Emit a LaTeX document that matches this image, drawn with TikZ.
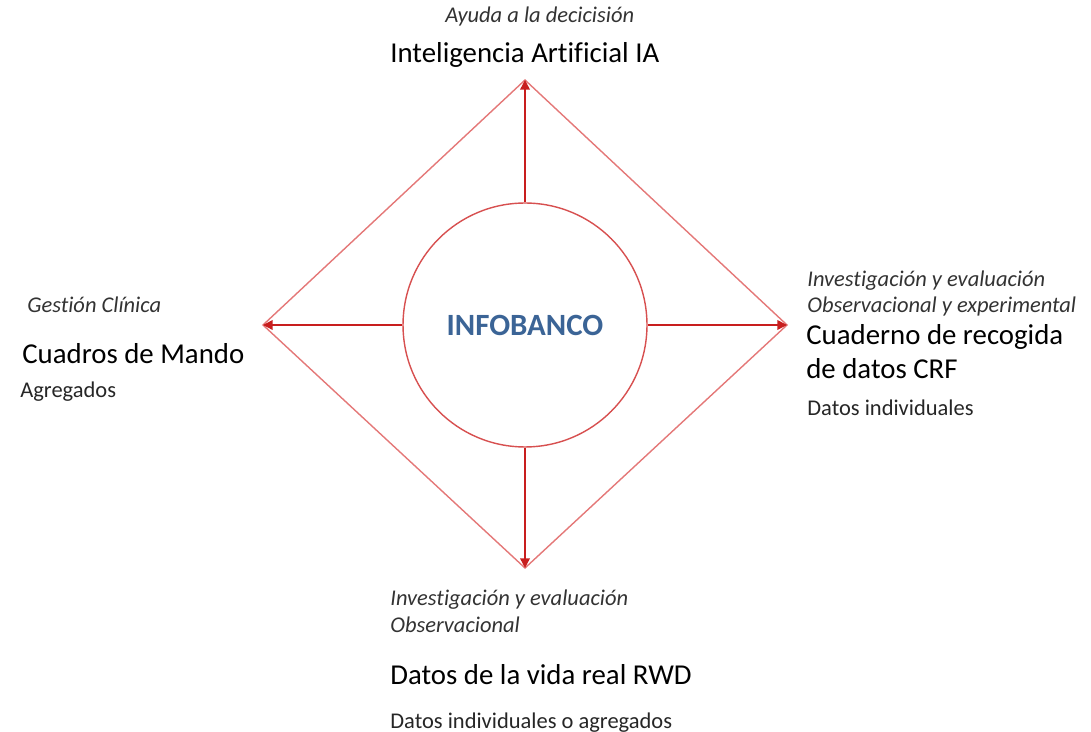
\documentclass[tikz,border=0pt]{standalone}
\usepackage{fontspec}
\setmainfont[Ligatures=CommonOff]{Carlito}
\usepackage{xcolor}
\usepackage{tikz}
\usetikzlibrary{arrows.meta}
\definecolor{rombo}{RGB}{228,120,120}
\definecolor{flecha}{RGB}{200,30,30}
\definecolor{circulo}{RGB}{215,80,80}
\definecolor{azul}{RGB}{59,100,150}
\tikzset{
  titulo/.style={anchor=base west, inner sep=0pt, font=\fontsize{16.4pt}{19pt}\selectfont},
  ambito/.style={anchor=base west, inner sep=0pt, text=black!80, font=\fontsize{12.8pt}{15pt}\selectfont\itshape},
  datos/.style={anchor=base west, inner sep=0pt, text=black!85, font=\fontsize{12.8pt}{15pt}\selectfont},
  lado/.style={draw=rombo, line width=0.8pt},
  flechaout/.style={draw=flecha, line width=0.8pt, -{Triangle[length=5.5pt,width=5.5pt]}}
}
\begin{document}
\begin{tikzpicture}[x=0.02cm, y=-0.02cm]%
\useasboundingbox (0,0) rectangle (1091,732);%
\node[circle, draw=circulo, line width=0.8pt, minimum size=4.88cm, inner sep=0pt, text=azul, font=\fontsize{17.6pt}{20pt}\selectfont\bfseries] (info) at (525,325) {INFOBANCO};%
\coordinate (ia) at (525,80);%
\coordinate (mando) at (263,325);%
\coordinate (crf) at (787,325);%
\coordinate (rwd) at (525,568);%
\draw[lado] (ia) -- (crf) -- (rwd) -- (mando) -- cycle;%
\draw[flechaout] (info.north) -- (ia);%
\draw[flechaout] (info.west) -- (mando);%
\draw[flechaout] (info.east) -- (crf);%
\draw[flechaout] (info.south) -- (rwd);%
\node[ambito] (ayuda) at (445,23) {Ayuda a la decicisión};%
\node[titulo] (iatxt) at (390,63) {Inteligencia Artificial IA};%
\node[ambito] (gestion) at (27,313) {Gestión Clínica};%
\node[titulo] (mandotxt) at (22,364) {Cuadros de Mando};%
\node[datos] (agregados) at (20,398) {Agregados};%
\node[ambito] (invcrf) at (807,287) {Investigación y evaluación};%
\node[ambito] (obscrf) at (807,313) {Observacional y experimental};%
\node[titulo] (crftxt) at (806,345) {Cuaderno de recogida};%
\node[titulo] (crftxtb) at (806,379) {de datos CRF};%
\node[datos] (individuales) at (807,416) {Datos individuales};%
\node[ambito] (invrwd) at (390,605) {Investigación y evaluación};%
\node[ambito] (obsrwd) at (390,632) {Observacional};%
\node[titulo] (rwdtxt) at (390,684) {Datos de la vida real RWD};%
\node[datos] (mixtos) at (390,728) {Datos individuales o agregados};%
\end{tikzpicture}
\end{document}
